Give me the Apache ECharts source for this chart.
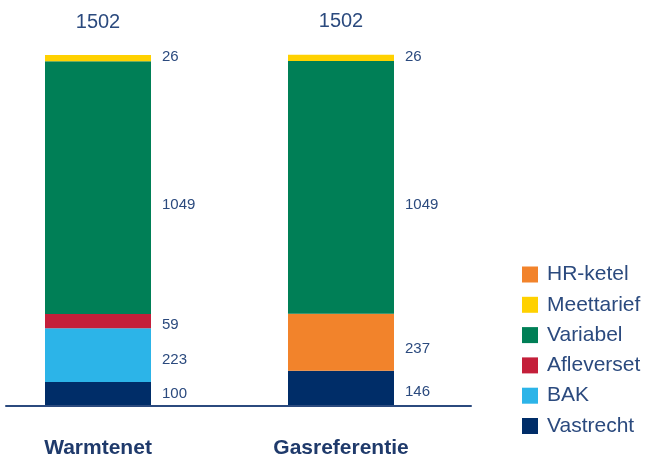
<!DOCTYPE html>
<html><head><meta charset="utf-8">
<script src="https://cdn.jsdelivr.net/npm/echarts@6/dist/echarts.min.js"></script>
<style>html,body{margin:0;padding:0;background:#fff}#c{width:646px;height:459px}</style>
</head><body><div id="c"></div>
<script>
const categories = ['Warmtenet', 'Gasreferentie'];
const totals = [1502, 1502];
const vastrecht = [100, 146];
const bak = [223, '-'];
const afleverset = [59, '-'];
const hrKetel = ['-', 237];
const variabel = [1049, 1049];
const meettarief = [26, 26];
const legendOrder = ['HR-ketel', 'Meettarief', 'Variabel', 'Afleverset', 'BAK', 'Vastrecht'];

const TXT = '#2b4a7e';
const FONT = '"Liberation Sans", Arial, sans-serif';
const chart = echarts.init(document.getElementById('c'), null, {renderer: 'canvas'});

// per-bar vertical nudges of the value labels (style only)
function seg(name, data, color, offs) {
  return {
    name, type: 'bar', stack: 'a', barWidth: 106, clip: false,
    xAxisIndex: 0, yAxisIndex: 0,
    data: data.map((v, i) => v === '-' ? v : {value: v, label: {offset: [0, offs[i]]}}),
    itemStyle: {color},
    label: {show: true, position: 'right', distance: 11, color: TXT, fontSize: 15, fontFamily: FONT}
  };
}

chart.setOption({
  animation: false,
  grid: [
    {left: 98, right: 305, top: 55, bottom: 51},
    {left: 6, right: 175, top: 55, bottom: 53}
  ],
  xAxis: [
    {type: 'category', gridIndex: 0, data: categories, boundaryGap: false,
     axisLine: {show: false}, axisTick: {show: false},
     axisLabel: {margin: 32, fontSize: 21, fontWeight: 'bold', color: '#1f3a6b', fontFamily: FONT}},
    {type: 'value', gridIndex: 1, min: 0, max: 1, splitLine: {show: false}, z: 10,
     axisTick: {show: false}, axisLabel: {show: false},
     axisLine: {show: true, lineStyle: {color: '#2b4a7e', width: 2}}}
  ],
  yAxis: [
    {type: 'value', gridIndex: 0, min: 0, max: 1457, show: false},
    {type: 'value', gridIndex: 1, min: 0, max: 1, show: false}
  ],
  legend: {
    orient: 'vertical', left: 517, top: 259, itemWidth: 16, itemHeight: 16, itemGap: 9.3,
    icon: 'rect', data: legendOrder,
    textStyle: {fontSize: 21, color: TXT, fontFamily: FONT, lineHeight: 16, padding: [0, 0, 0, 4]}
  },
  series: [
    seg('Vastrecht', vastrecht, '#002d68', [0, 3]),
    seg('BAK', bak, '#2cb4e8', [5, 5]),
    seg('Afleverset', afleverset, '#c41f3a', [4, 4]),
    seg('HR-ketel', hrKetel, '#f2832b', [7, 7]),
    seg('Variabel', variabel, '#007f56', [17, 17]),
    seg('Meettarief', meettarief, '#ffd100', [-1, -1]),
    {name: 'Totaal', type: 'bar', stack: 'a', data: [0, 0], barWidth: 106, clip: false,
     itemStyle: {color: 'transparent'},
     label: {show: true, position: 'top', distance: 23, fontSize: 20, color: TXT, fontFamily: FONT,
             formatter: p => String(totals[p.dataIndex])}}
  ]
});
</script></body></html>
